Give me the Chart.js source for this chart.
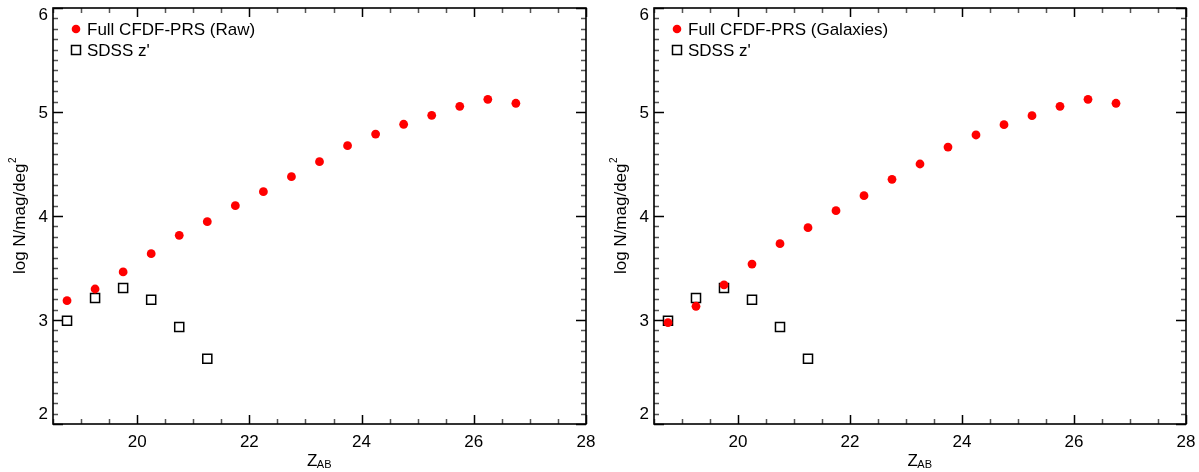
<!DOCTYPE html>
<html><head><meta charset="utf-8">
<script src="https://cdn.jsdelivr.net/npm/chart.js@4.4.1/dist/chart.umd.min.js"></script>
<style>
html,body{margin:0;padding:0;background:#fff;}
#wrap{position:relative;width:1199px;height:472px;background:#fff;}
canvas{position:absolute;top:0;}
</style></head><body>
<div id="wrap">
<canvas id="c1" width="600" height="472" style="left:0"></canvas>
<canvas id="c2" width="599" height="472" style="left:600px"></canvas>
</div>
<script>
// ---- data ----
const magnitudes = [18.75, 19.25, 19.75, 20.25, 20.75, 21.25, 21.75, 22.25, 22.75, 23.25, 23.75, 24.25, 24.75, 25.25, 25.75, 26.25, 26.75];
const rawCounts = [3.186, 3.298, 3.462, 3.638, 3.814, 3.945, 4.099, 4.234, 4.378, 4.522, 4.676, 4.788, 4.882, 4.968, 5.055, 5.122, 5.084];
const galaxyCounts = [2.974, 3.132, 3.337, 3.538, 3.734, 3.888, 4.051, 4.195, 4.353, 4.500, 4.663, 4.779, 4.878, 4.965, 5.055, 5.122, 5.084];
const sdssMagnitudes = [18.75, 19.25, 19.75, 20.25, 20.75, 21.25];
const sdssCounts = [2.993, 3.212, 3.308, 3.195, 2.933, 2.628];
const xTickLabels = [20, 22, 24, 26, 28];
const yTickLabels = [2, 3, 4, 5, 6];
const xRange = [18.5, 28];
const yRange = [2, 6];
const panelNames = ["Full CFDF-PRS (Raw)", "Full CFDF-PRS (Galaxies)"];
const sdssName = "SDSS z'";
const yTitle = "log N/mag/deg";
const yTitleSup = "2";
const xTitle = "Z";
const xTitleSub = "AB";

const FONT = '"Liberation Sans", Arial, Helvetica, sans-serif';

function toPoints(xs, ys){ return xs.map((x,i)=>({x:x, y:ys[i]})); }

const decor = {
  id: 'decor',
  afterDraw(chart, args, opts){
    const ctx = chart.ctx;
    const a = chart.chartArea;
    const xs = chart.scales.x, ys = chart.scales.y;
    const L = a.left, R = a.right, T = a.top, B = a.bottom;
    ctx.save();
    ctx.lineCap = 'butt';
    for (let i = Math.round(yRange[0]*10); i <= Math.round(yRange[1]*10); i++){
      const v = i/10;
      const major = (i % 10 === 0);
      const y = Math.round(ys.getPixelForValue(v)) + 0.5;
      const len = major ? 10 : 5;
      ctx.strokeStyle = major ? '#000' : '#555';
      ctx.lineWidth = 1.5;
      ctx.beginPath();
      ctx.moveTo(L, y); ctx.lineTo(L+len, y);
      ctx.moveTo(R, y); ctx.lineTo(R-len, y);
      ctx.stroke();
    }
    for (let i = Math.ceil(xRange[0]*2); i <= Math.floor(xRange[1]*2); i++){
      const v = i/2;
      const major = (i % 4 === 0);
      const x = Math.round(xs.getPixelForValue(v)) + 0.5;
      const len = major ? 9 : 5;
      ctx.strokeStyle = major ? '#000' : '#555';
      ctx.lineWidth = 1.5;
      ctx.beginPath();
      ctx.moveTo(x, B); ctx.lineTo(x, B-len);
      ctx.moveTo(x, T); ctx.lineTo(x, T+len);
      ctx.stroke();
    }
    ctx.strokeStyle = '#000';
    ctx.lineWidth = 1.6;
    ctx.strokeRect(L, T, R-L, B-T);

    ctx.fillStyle = '#000';
    ctx.font = '17px ' + FONT;
    ctx.textAlign = 'right';
    ctx.textBaseline = 'middle';
    yTickLabels.forEach(v=>{
      let y = ys.getPixelForValue(v);
      y = Math.min(Math.max(y, T+6), B-11);
      ctx.fillText(String(v), L-5, y+1);
    });
    ctx.textAlign = 'center';
    ctx.textBaseline = 'alphabetic';
    xTickLabels.forEach(v=>{
      const x = xs.getPixelForValue(v);
      ctx.fillText(String(v), x, B+23);
    });

    const cx = (L+R)/2;
    ctx.font = '17px ' + FONT;
    const wZ = ctx.measureText(xTitle).width;
    ctx.font = '11px ' + FONT;
    const wAB = ctx.measureText(xTitleSub).width;
    const x0 = cx - (wZ + wAB)/2;
    ctx.textAlign = 'left';
    ctx.font = '17px ' + FONT;
    ctx.fillText(xTitle, x0, B+42);
    ctx.font = '11px ' + FONT;
    ctx.fillText(xTitleSub, x0 + wZ - 0.5, B+43.5);

    ctx.save();
    ctx.translate(L-28, (T+B)/2);
    ctx.rotate(-Math.PI/2);
    ctx.font = '17px ' + FONT;
    const wM = ctx.measureText(yTitle).width;
    ctx.font = '10px ' + FONT;
    const wS = ctx.measureText(yTitleSup).width;
    const s0 = -(wM + wS)/2;
    ctx.font = '17px ' + FONT;
    ctx.textAlign = 'left';
    ctx.fillText(yTitle, s0, 0);
    ctx.font = '10px ' + FONT;
    ctx.fillText(yTitleSup, s0 + wM + 0.5, -9);
    ctx.restore();

    const ds = chart.data.datasets;
    ctx.font = '17px ' + FONT;
    ctx.textAlign = 'left';
    ctx.textBaseline = 'alphabetic';
    ctx.fillStyle = ds[0].backgroundColor;
    ctx.beginPath();
    ctx.arc(L+23, T+21, 4.3, 0, Math.PI*2);
    ctx.fill();
    ctx.fillStyle = '#000';
    ctx.fillText(ds[0].label, L+34, T+27);
    ctx.strokeStyle = ds[1].borderColor;
    ctx.lineWidth = ds[1].borderWidth;
    ctx.fillStyle = '#fff';
    ctx.beginPath();
    ctx.rect(L+23-4.5, T+42-4.5, 9, 9);
    ctx.fill(); ctx.stroke();
    ctx.fillStyle = '#000';
    ctx.fillText(ds[1].label, L+34, T+48);
    ctx.restore();
  }
};

function makeChart(id, name, counts, leftW, rightPad){
  return new Chart(document.getElementById(id), {
    type: 'scatter',
    data: {
      datasets: [
        { label: name, data: toPoints(magnitudes, counts), pointStyle: 'circle',
          pointRadius: 4.4, pointHoverRadius: 4.4, backgroundColor: 'rgb(255,0,0)',
          borderColor: 'rgb(255,0,0)', borderWidth: 0, order: 1 },
        { label: sdssName, data: toPoints(sdssMagnitudes, sdssCounts), pointStyle: 'rect',
          pointRadius: 6.4, pointHoverRadius: 6.4, backgroundColor: '#fff',
          borderColor: '#000', borderWidth: 1.5, order: 2 }
      ]
    },
    options: {
      responsive: false,
      animation: false,
      devicePixelRatio: 1,
      layout: { autoPadding: false, padding: { top: 8, right: rightPad, left: 0, bottom: 0 } },
      plugins: { legend: { display: false }, tooltip: { enabled: false } },
      events: [],
      scales: {
        x: { type: 'linear', min: xRange[0], max: xRange[1],
             ticks: { display: false }, grid: { display: false }, border: { display: false },
             afterFit(s){ s.height = 48; } },
        y: { type: 'linear', min: yRange[0], max: yRange[1],
             ticks: { display: false }, grid: { display: false }, border: { display: false },
             afterFit(s){ s.width = leftW; } }
      }
    },
    plugins: [decor]
  });
}

makeChart('c1', panelNames[0], rawCounts, 53, 14);
makeChart('c2', panelNames[1], galaxyCounts, 54, 13);
</script>
</body></html>
